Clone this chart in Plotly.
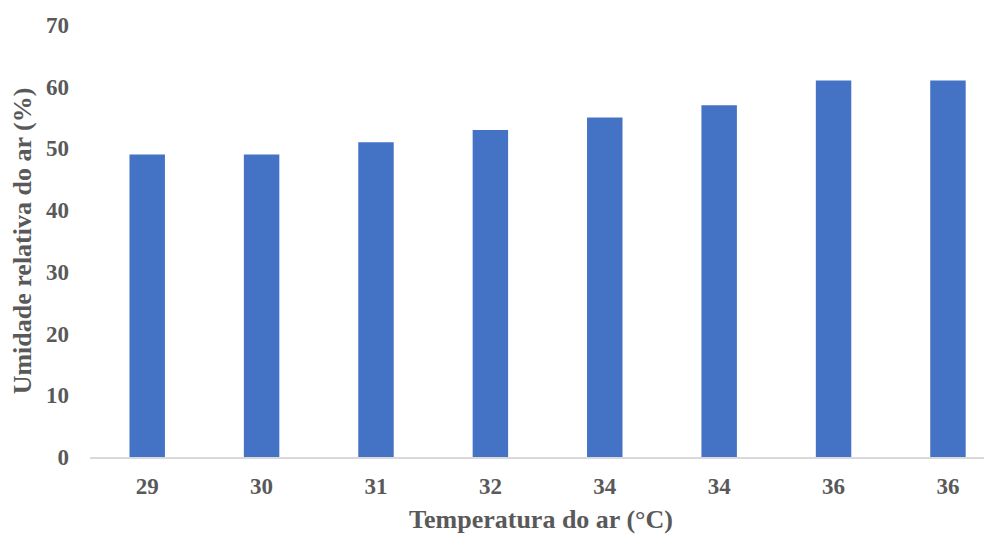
import plotly.graph_objects as go

categories = ["29", "30", "31", "32", "34", "34", "36", "36"]
humidity = [49, 49, 51, 53, 55, 57, 61, 61]
y_ticks = [0, 10, 20, 30, 40, 50, 60, 70]

positions = list(range(len(categories)))

font_family = "Liberation Serif, Times New Roman, serif"
text_color = "#595959"

fig = go.Figure(
    go.Bar(
        x=positions,
        y=humidity,
        width=0.31,
        marker=dict(color="#4472C4", line=dict(width=0)),
    )
)

# the page body adds an 8px offset, so the figure is sized 8px smaller
fig.update_layout(
    width=984,
    height=526,
    margin=dict(l=82, r=0, t=17, b=77),
    paper_bgcolor="white",
    plot_bgcolor="white",
    showlegend=False,
    font=dict(family=font_family, color=text_color),
)

fig.update_xaxes(
    range=[-0.5, 7.385],
    tickvals=positions,
    ticktext=["<b>%s</b>" % c for c in categories],
    tickfont=dict(size=23, family=font_family, color=text_color),
    showline=True,
    linecolor="#D9D9D9",
    linewidth=1.5,
    showgrid=False,
    zeroline=False,
    ticks="",
    ticklabelstandoff=8,
    title=dict(
        text="<b>Temperatura do ar (°C)</b>",
        font=dict(size=26, family=font_family, color=text_color),
        standoff=12,
    ),
)

fig.update_yaxes(
    range=[0, 70],
    tickvals=y_ticks,
    ticktext=["<b>%d</b>" % v for v in y_ticks],
    tickfont=dict(size=23, family=font_family, color=text_color),
    showgrid=False,
    zeroline=False,
    showline=False,
    ticks="",
    ticklabelstandoff=20,
    title=dict(
        text="<b>Umidade relativa do ar (%)</b>",
        font=dict(size=26, family=font_family, color=text_color),
        standoff=6,
    ),
)

fig.write_html("out.html")
